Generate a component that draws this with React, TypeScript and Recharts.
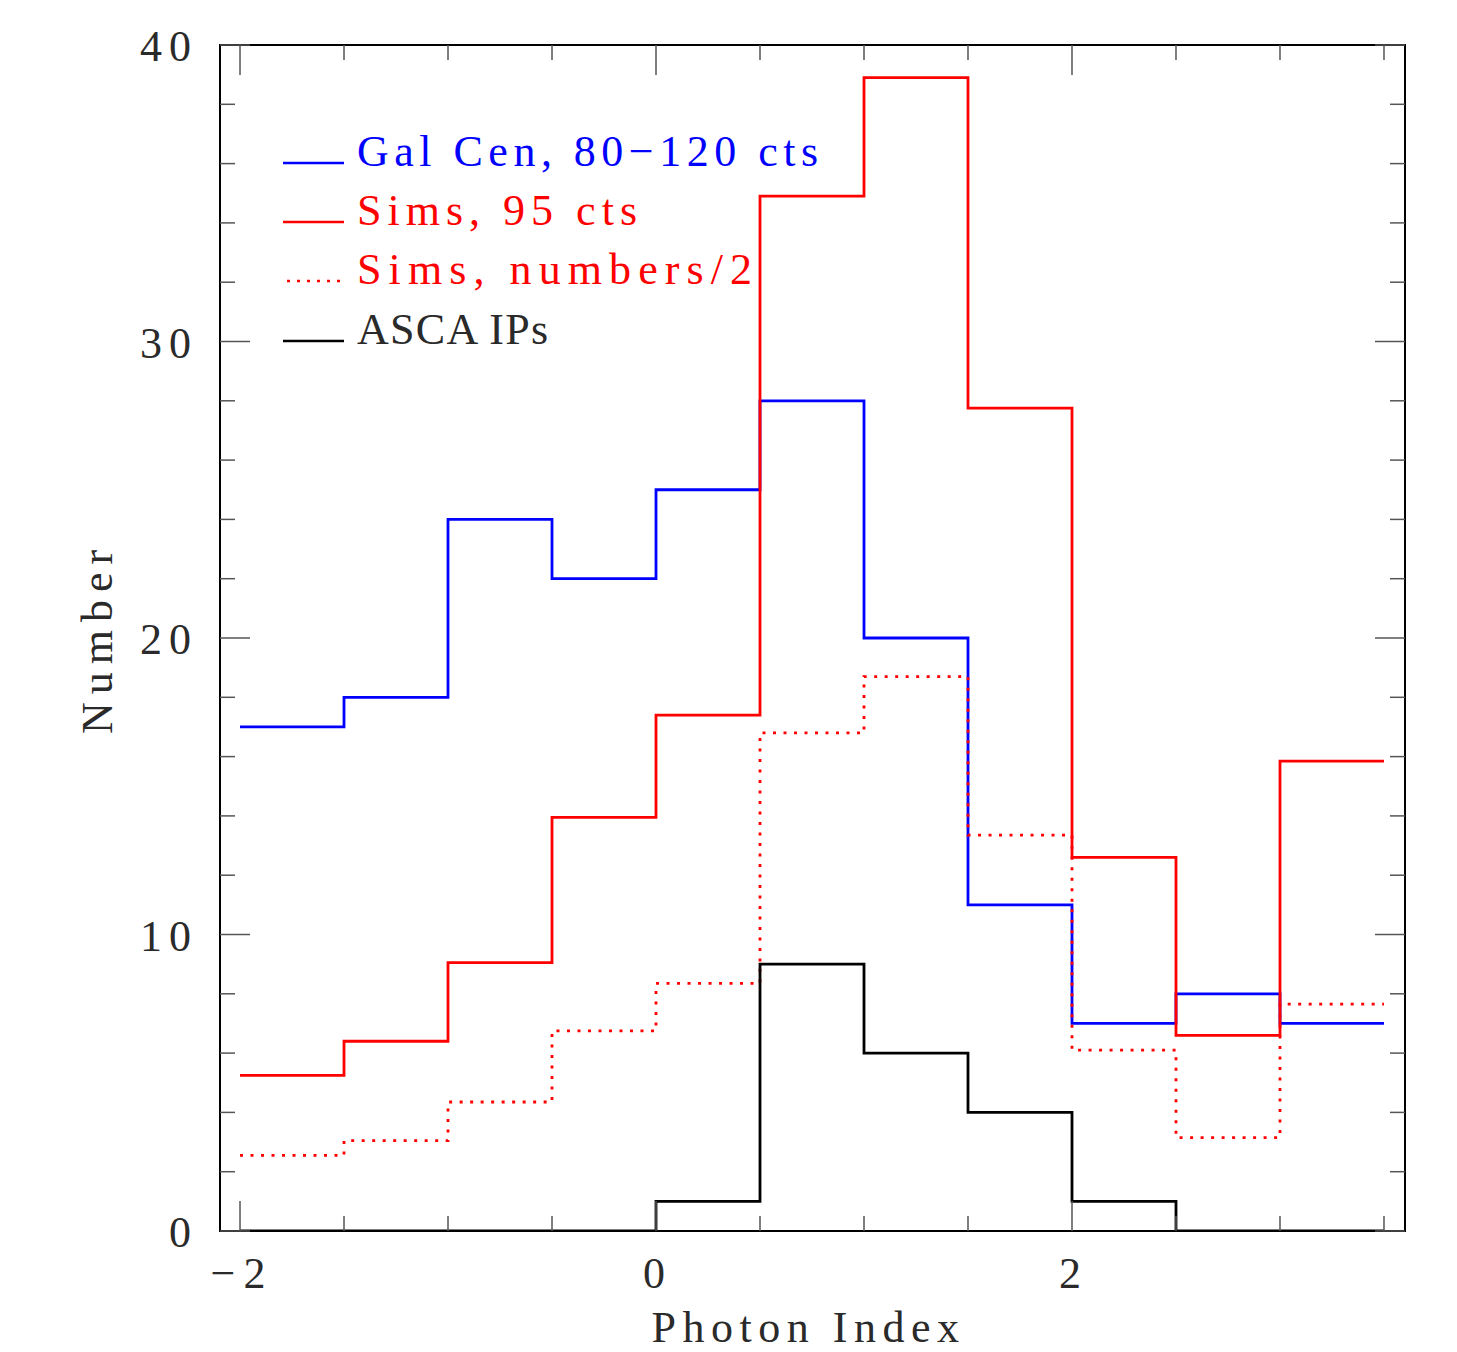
import React from 'react';
import { ComposedChart, Line, XAxis, YAxis, ReferenceArea, Legend } from 'recharts';

// bin edges (0.5 wide), values are per bin
const binEdges = [-2, -1.5, -1, -0.5, 0, 0.5, 1, 1.5, 2, 2.5, 3, 3.5];
const galCen = [17, 18, 24, 22, 25, 28, 20, 11, 7, 8, 7];
const sims95 = [5.25, 6.4, 9.05, 13.95, 17.4, 34.9, 38.9, 27.75, 12.6, 6.6, 15.85];
const simsHalf = [2.55, 3.05, 4.35, 6.75, 8.35, 16.8, 18.7, 13.35, 6.1, 3.15, 7.65];
const ascaIPs = [0, 0, 0, 0, 1, 9, 6, 4, 1, 0, 0];

const xTicks = [-2, -1.5, -1, -0.5, 0, 0.5, 1, 1.5, 2, 2.5, 3, 3.5];
const yTicks = [0, 2, 4, 6, 8, 10, 12, 14, 16, 18, 20, 22, 24, 26, 28, 30, 32, 34, 36, 38, 40];

const series = [
  { key: 'gal', name: 'Gal Cen, 80\u2212120 cts', color: '#0000ff', dash: undefined as string | undefined },
  { key: 'sims', name: 'Sims, 95 cts', color: '#ff0000', dash: undefined },
  { key: 'half', name: 'Sims, numbers/2', color: '#ff0000', dash: '3 7.5' },
  { key: 'asca', name: 'ASCA IPs', color: '#000000', dash: undefined },
];

const last = galCen.length - 1;
const rows = binEdges.map((x, i) => {
  const j = Math.min(i, last);
  return { x, gal: galCen[j], sims: sims95[j], half: simsHalf[j], asca: ascaIPs[j] };
});

const W = 1457;
const H = 1352;
const PLOT_LEFT = 220;
const PLOT_RIGHT = 1405;
const PLOT_TOP = 45;
const PLOT_BOTTOM = 1231;
const XMIN = -2.0962;
const XMAX = 3.601;

const FONT = '"Liberation Serif", "DejaVu Serif", serif';
const TEXT = '#2a2a2a';
const TICK = '#555';

// legend layout (pixel rows and text widths)
const legendRowY = [163, 222, 281, 341];
const legendTextW = [461, 280, 395, 191];

const fmt = (v: number) => (v < 0 ? '\u2212' + Math.abs(v) : String(v));

function XTick(props: any) {
  const { x, payload } = props;
  const v = payload.value;
  const major = Math.abs(v / 2 - Math.round(v / 2)) < 1e-6;
  const len = major ? 30 : 15;
  return (
    <g>
      <line x1={x} y1={PLOT_BOTTOM} x2={x} y2={PLOT_BOTTOM - len} stroke={TICK} strokeWidth={1.5} />
      <line x1={x} y1={PLOT_TOP} x2={x} y2={PLOT_TOP + len} stroke={TICK} strokeWidth={1.5} />
      {major && (
        <text x={x + 2} y={1288} textAnchor="middle" fontFamily={FONT} fontSize={44} letterSpacing={8} fill={TEXT}>
          {fmt(v)}
        </text>
      )}
    </g>
  );
}

function YTick(props: any) {
  const { y, payload } = props;
  const v = payload.value;
  const major = v % 10 === 0;
  const len = major ? 30 : 15;
  return (
    <g>
      <line x1={PLOT_LEFT} y1={y} x2={PLOT_LEFT + len} y2={y} stroke={TICK} strokeWidth={1.5} />
      <line x1={PLOT_RIGHT} y1={y} x2={PLOT_RIGHT - len} y2={y} stroke={TICK} strokeWidth={1.5} />
      {major && (
        <text x={198} y={y + 16} textAnchor="end" fontFamily={FONT} fontSize={44} letterSpacing={7} fill={TEXT}>
          {v}
        </text>
      )}
    </g>
  );
}

function XTitle(props: any) {
  const vb = props.viewBox || {};
  const cx = vb.x + vb.width / 2;
  return (
    <text x={cx - 4} y={1342} textAnchor="middle" fontFamily={FONT} fontSize={44} letterSpacing={6.5} fill={TEXT}>
      Photon Index
    </text>
  );
}

function YTitle(props: any) {
  const vb = props.viewBox || {};
  const cy = vb.y + vb.height / 2;
  return (
    <text
      x={112}
      y={cy}
      transform={`rotate(-90, 112, ${cy})`}
      textAnchor="middle"
      fontFamily={FONT}
      fontSize={44}
      letterSpacing={8}
      fill={TEXT}
    >
      Number
    </text>
  );
}

function LegendBox() {
  return (
    <svg width={900} height={400} style={{ display: 'block' }}>
      {series.map((s, i) => (
        <g key={s.key}>
          <line
            x1={s.dash ? 287 : 283}
            x2={344}
            y1={legendRowY[i]}
            y2={legendRowY[i]}
            stroke={s.color}
            strokeWidth={2.5}
            strokeDasharray={s.dash ? '3 7' : undefined}
          />
          <text
            x={357}
            y={legendRowY[i] + 3}
            fontFamily={FONT}
            fontSize={44}
            textLength={legendTextW[i]}
            lengthAdjust="spacing"
            fill={s.key === 'asca' ? TEXT : s.color}
          >
            {s.name}
          </text>
        </g>
      ))}
    </svg>
  );
}

export default function App() {
  return (
    <div style={{ position: 'absolute', left: 0, top: 0, width: W, height: H, background: '#fff' }}>
      <ComposedChart width={W} height={H} data={rows} margin={{ top: PLOT_TOP, right: W - PLOT_RIGHT, bottom: 61, left: 120 }}>
        <XAxis
          type="number"
          dataKey="x"
          domain={[XMIN, XMAX]}
          ticks={xTicks}
          interval={0}
          allowDataOverflow
          axisLine={false}
          tickLine={false}
          tick={<XTick />}
          height={60}
          label={<XTitle />}
        />
        <YAxis
          type="number"
          domain={[0, 40]}
          ticks={yTicks}
          interval={0}
          allowDataOverflow
          axisLine={false}
          tickLine={false}
          tick={<YTick />}
          width={100}
          label={<YTitle />}
        />
        <ReferenceArea x1={XMIN} x2={XMAX} y1={0} y2={40} fill="none" stroke="#000" strokeWidth={2} />
        {series.map((s) => (
          <Line
            key={s.key}
            type="stepAfter"
            dataKey={s.key}
            name={s.name}
            stroke={s.color}
            strokeWidth={2.8}
            strokeDasharray={s.dash}
            dot={false}
            activeDot={false}
            isAnimationActive={false}
          />
        ))}
        <Legend
          layout="vertical"
          align="center"
          verticalAlign="middle"
          content={() => <LegendBox />}
          wrapperStyle={{ position: 'absolute', left: 0, top: 0, width: 900, height: 400 }}
        />
      </ComposedChart>
    </div>
  );
}
